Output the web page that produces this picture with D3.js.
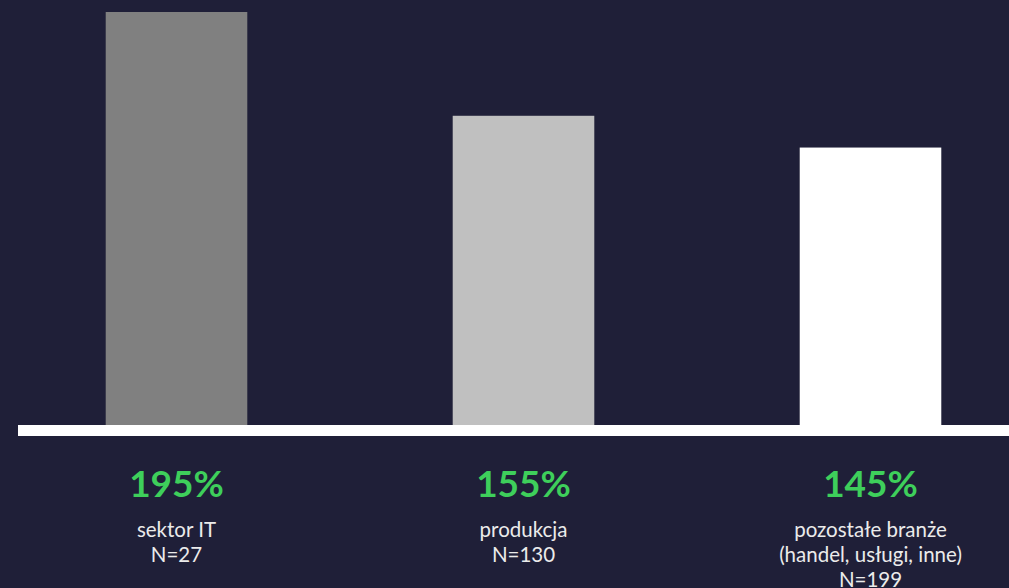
<!DOCTYPE html>
<html><head><meta charset="utf-8">
<script src="https://cdn.jsdelivr.net/npm/d3@7"></script>
<style>html,body{margin:0;padding:0;background:#1f1f38;overflow:hidden}</style>
</head><body>
<svg id="c" width="1009" height="588"></svg>
<script>
const categories = ["sektor IT", "produkcja", "pozostałe branże"];
const subLabels = [["sektor IT","N=27"],["produkcja","N=130"],["pozostałe branże","(handel, usługi, inne)","N=199"]];
const valueLabels = ["195%", "155%", "145%"];
const barValues = [195, 146, 131];
const barColors = ["#808080", "#c0c0c0", "#ffffff"];

const svg = d3.select("#c");
svg.append("rect").attr("width",1009).attr("height",588).attr("fill","#1f1f38");

const x = d3.scaleBand().domain(categories).range([3, 1044]).paddingInner(0.592).paddingOuter(0.296);
const y = d3.scaleLinear().domain([0, 195]).range([425, 12]);

svg.selectAll("rect.bar").data(categories).join("rect").attr("class","bar")
  .attr("x", d => x(d)).attr("width", x.bandwidth())
  .attr("y", (d,i) => y(barValues[i])).attr("height", (d,i) => y(0) - y(barValues[i]))
  .attr("fill", (d,i) => barColors[i]);

svg.append("rect").attr("x",18).attr("y",y(0)).attr("width",1009-18).attr("height",11).attr("fill","#ffffff");

svg.selectAll("text.val").data(categories).join("text").attr("class","val")
  .attr("x", d => x(d) + x.bandwidth()/2).attr("y", 497)
  .attr("text-anchor","middle").attr("font-family","Lato").attr("font-weight","bold")
  .attr("font-size",37).attr("fill","#3ecf5b").text((d,i)=>valueLabels[i]);

categories.forEach((c,i) => {
  const t = svg.append("text").attr("text-anchor","middle").attr("font-family","Lato")
    .attr("font-size",20.5).attr("fill","#ebebeb");
  subLabels[i].forEach((s,j) => {
    t.append("tspan").attr("x", x(c)+x.bandwidth()/2).attr("y", 537 + j*25).text(s);
  });
});
</script>
</body></html>
